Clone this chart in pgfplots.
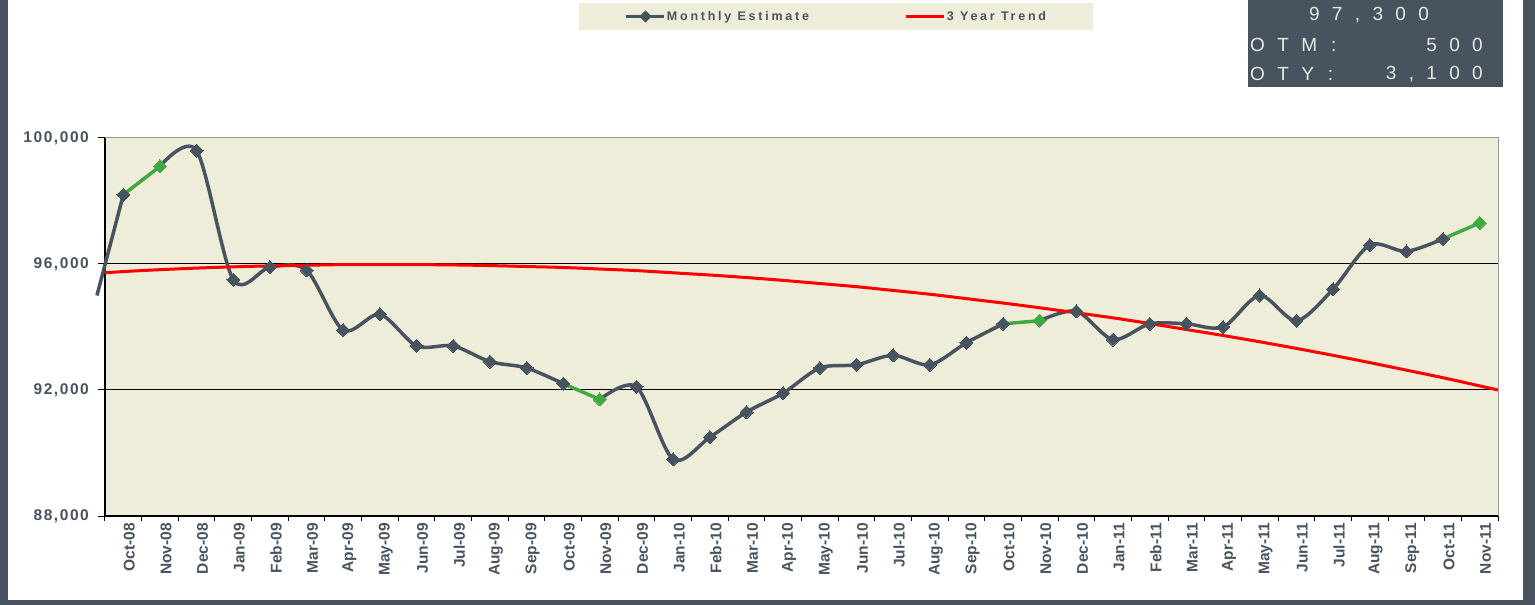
\documentclass[border=0pt]{standalone}
\usepackage{fontspec}
\setmainfont{Liberation Sans}
\newfontfamily\lblfont[LetterSpace=10]{Liberation Sans}
\newfontfamily\xlblfont{Liberation Sans}
\newfontfamily\legfont[LetterSpace=22]{Liberation Sans}
\newfontfamily\boxfont[LetterSpace=65]{Liberation Sans}
\usepackage{pgfplots}
\usepackage{pgfplotstable}
\pgfplotsset{compat=1.18}
\definecolor{slate}{RGB}{71,84,96}
\definecolor{beige}{RGB}{238,237,217}
\definecolor{mgreen}{RGB}{66,168,66}
\definecolor{boxtext}{RGB}{232,232,222}

\pgfplotstableread{
t v
-0.72 95000
0 98200
1 99100
2 99600
3 95500
4 95900
5 95800
6 93900
7 94400
8 93400
9 93400
10 92900
11 92700
12 92200
13 91700
14 92100
15 89800
16 90500
17 91300
18 91900
19 92700
20 92800
21 93100
22 92800
23 93500
24 94100
25 94200
26 94500
27 93600
28 94100
29 94100
30 94000
31 95000
32 94200
33 95200
34 96600
35 96400
36 96800
37 97300
}\monthly

\pgfplotstableread{
t v
-0.5 95720
0 95760
1 95820
2 95870
3 95910
4 95940
5 95960
6 95980
7 95980
8 95980
9 95970
10 95950
11 95920
12 95890
13 95840
14 95790
15 95720
16 95650
17 95570
18 95480
19 95380
20 95280
21 95160
22 95040
23 94900
24 94760
25 94610
26 94450
27 94290
28 94110
29 93920
30 93730
31 93530
32 93320
33 93100
34 92870
35 92630
36 92390
37 92130
37.5 92000
}\trend

\begin{document}
\begin{tikzpicture}
\begin{axis}[
  scale only axis, width=1393bp, height=378bp,
  xmin=-0.5, xmax=37.5, ymin=88000, ymax=100000,
  scaled y ticks=false,
  axis x line*=bottom, axis y line*=left,
  axis line style={black, line width=1.2bp},
  axis background/.style={fill=beige},
  clip=false,
  xtick={0,...,37},
  xticklabels={Oct-08,Nov-08,Dec-08,Jan-09,Feb-09,Mar-09,Apr-09,May-09,Jun-09,Jul-09,Aug-09,Sep-09,Oct-09,Nov-09,Dec-09,Jan-10,Feb-10,Mar-10,Apr-10,May-10,Jun-10,Jul-10,Aug-10,Sep-10,Oct-10,Nov-10,Dec-10,Jan-11,Feb-11,Mar-11,Apr-11,May-11,Jun-11,Jul-11,Aug-11,Sep-11,Oct-11,Nov-11},
  minor xtick={-0.5,0.5,...,37.5},
  major x tick style={draw=none},
  minor x tick style={black, line width=1bp},
  minor tick length=5bp,
  ytick={88000,92000,96000,100000},
  yticklabels={{88,000},{92,000},{96,000},{100,000}},
  major y tick style={black, line width=1bp},
  major tick length=7bp,
  tick align=outside,
  x tick label style={rotate=90, anchor=east, font=\fontsize{15.5bp}{18bp}\xlblfont\bfseries, text=slate, inner sep=0pt, yshift=-6bp},
  y tick label style={font=\fontsize{15.5bp}{18bp}\lblfont\bfseries, text=slate, inner sep=0pt, anchor=east, xshift=-9bp},
  extra y ticks={92000,96000}, extra y tick labels={},
  extra y tick style={grid=major, major tick length=0pt},
  major grid style={black, line width=1bp},
  legend image code/.code={\draw[mark repeat=2,mark phase=2,#1] plot coordinates {(0bp,0bp) (19bp,0bp) (38bp,0bp)};},
  legend columns=2,
  legend style={at={(0.5248,1.3214)}, anchor=center, fill=beige, draw=none,
    font=\fontsize{12.5bp}{14bp}\legfont\bfseries, text=slate,
    inner xsep=46bp, inner ysep=5bp,
    nodes={inner xsep=1bp, inner ysep=3bp},
    /tikz/every even column/.append style={column sep=95bp}},
]
\addlegendimage{slate, line width=3bp, mark=square*, mark size=2.8bp, mark options={rotate=45, fill=slate, draw=slate}}
\addlegendentry{Monthly Estimate}
\addlegendimage{red, line width=3bp}
\addlegendentry{3 Year Trend}

% dark line pieces
\addplot[slate, line width=3.5bp, smooth, no markers, forget plot, restrict x to domain=-1:0] table[x=t,y=v]{\monthly};
\addplot[slate, line width=3.5bp, smooth, no markers, forget plot, restrict x to domain=1:12] table[x=t,y=v]{\monthly};
\addplot[slate, line width=3.5bp, smooth, no markers, forget plot, restrict x to domain=13:24] table[x=t,y=v]{\monthly};
\addplot[slate, line width=3.5bp, smooth, no markers, forget plot, restrict x to domain=25:36] table[x=t,y=v]{\monthly};
% green line pieces
\addplot[mgreen, line width=3.5bp, no markers, forget plot, restrict x to domain=0:1] table[x=t,y=v]{\monthly};
\addplot[mgreen, line width=3.5bp, no markers, forget plot, restrict x to domain=12:13] table[x=t,y=v]{\monthly};
\addplot[mgreen, line width=3.5bp, no markers, forget plot, restrict x to domain=24:25] table[x=t,y=v]{\monthly};
\addplot[mgreen, line width=3.5bp, no markers, forget plot, restrict x to domain=36:37] table[x=t,y=v]{\monthly};
% trend
\addplot[red, line width=3bp, smooth, no markers, forget plot] table[x=t,y=v]{\trend};
% markers
\addplot[only marks, forget plot, mark=square*, mark size=4.6bp, mark options={rotate=45, fill=slate, draw=slate, line width=0pt},
  x filter/.expression={(x<-0.1 || x==1 || x==13 || x==25 || x==37) ? nan : x}] table[x=t,y=v]{\monthly};
\addplot[only marks, forget plot, mark=square*, mark size=4.6bp, mark options={rotate=45, fill=mgreen, draw=mgreen, line width=0pt},
  x filter/.expression={(x==1 || x==13 || x==25 || x==37) ? x : nan}] table[x=t,y=v]{\monthly};

\draw[gray!80, line width=1bp] (rel axis cs:0,1) -- (rel axis cs:1,1) -- (rel axis cs:1,0);
\end{axis}
% frame and value box
\fill[slate] (-105bp,-89bp) rectangle (-97bp,516bp);
\fill[slate] (1418bp,-89bp) rectangle (1430bp,516bp);
\fill[slate] (-105bp,-89bp) rectangle (1430bp,-84bp);
\fill[slate] (1143bp,429bp) rectangle (1398bp,516bp);
\begin{scope}[every node/.style={inner sep=0pt, text=boxtext, font=\fontsize{19bp}{22bp}\boxfont}]
\node[anchor=center] at (1264bp,501bp) {97,300};
\node[anchor=west] at (1145bp,471bp) {OTM\kern14bp:};
\node[anchor=east] at (1378bp,471bp) {500};
\node[anchor=west] at (1145bp,442bp) {OTY\kern14bp:};
\node[anchor=east] at (1378bp,442bp) {3,100};
\end{scope}
\pgfresetboundingbox
\path[use as bounding box] (-105bp,-89bp) rectangle (1430bp,516bp);
\end{tikzpicture}
\end{document}
